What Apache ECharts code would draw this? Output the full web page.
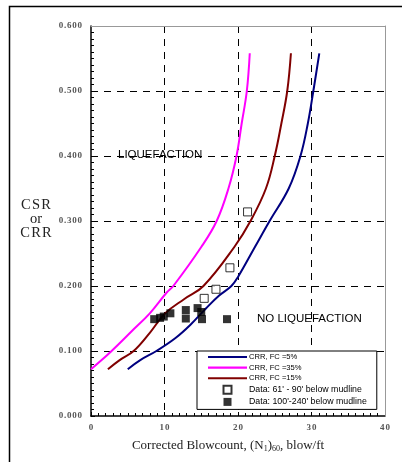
<!DOCTYPE html>
<html>
<head>
<meta charset="utf-8">
<script src="https://cdn.jsdelivr.net/npm/echarts@6/dist/echarts.min.js"></script>
<style>
  html, body { margin: 0; padding: 0; background: #fff; }
  #chart { width: 402px; height: 462px; }
</style>
</head>
<body>
<div id="chart"></div>
<script>
// CRR curves: corrected blowcount (N1)60 vs. cyclic resistance ratio
const crr5N   = [5.0, 6.7, 8.9, 11.5, 13.5, 15.6, 17.4, 19.1, 20.0, 22.3, 24.3, 26.9, 28.5, 29.5, 30.25, 31.06];
const crr5    = [0.072, 0.086, 0.100, 0.120, 0.140, 0.165, 0.185, 0.200, 0.214, 0.260, 0.300, 0.350, 0.400, 0.450, 0.500, 0.558];
const crr35N  = [0.0, 1.45, 2.8, 5.5, 8.0, 10.3, 11.2, 15.0, 17.1, 18.7, 19.8, 20.5, 21.2, 21.6];
const crr35   = [0.072, 0.086, 0.100, 0.130, 0.158, 0.190, 0.200, 0.260, 0.300, 0.350, 0.400, 0.450, 0.500, 0.558];
const crr15N  = [2.3, 3.9, 5.8, 8.0, 10.1, 12.7, 15.3, 19.5, 21.7, 23.8, 25.0, 25.9, 26.7, 27.2];
const crr15   = [0.072, 0.086, 0.100, 0.128, 0.158, 0.180, 0.200, 0.260, 0.300, 0.350, 0.400, 0.450, 0.500, 0.558];

// Field data, cyclic stress ratio vs. blowcount
const shallowN   = [15.4, 17.0, 18.9, 21.3];
const shallowCSR = [0.181, 0.195, 0.228, 0.314];
const deepN      = [8.6, 9.4, 9.9, 10.8, 12.9, 12.9, 14.5, 15.0, 15.1, 18.5];
const deepCSR    = [0.149, 0.151, 0.153, 0.158, 0.163, 0.150, 0.166, 0.160, 0.149, 0.149];

const seriesNames = ['CRR, FC =5%', 'CRR, FC =35%', 'CRR, FC =15%',
                     "Data: 61' - 90' below mudline", "Data: 100'-240' below mudline"];

const pairs = (xs, ys) => xs.map((x, i) => [x, ys[i]]);
const spaced = s => s.split('').join('\u200A');

const serif = 'Liberation Serif';
const sans = 'Liberation Sans';
const dashed = { show: true, showMinLine: false, showMaxLine: false,
                 lineStyle: { color: '#000', type: [7, 6], width: 1 } };

// legend glyphs: a thin bar for the curves, a small square for the data
const lineIcon = 'path://M0,0H40V2.2H0Z';
const boxIcon = 'path://M0,0H8V8H0Z';

// thin grey frame on the top and right sides of the plot
const frameAxis = {
  type: 'value', z: 6,
  axisLine: { show: true, onZero: false, lineStyle: { color: '#999', width: 1 } },
  axisTick: { show: false }, axisLabel: { show: false }, splitLine: { show: false }
};

const chart = echarts.init(document.getElementById('chart'), null, { renderer: 'canvas' });

function curve(name, data, color) {
  return {
    name, type: 'line', data, smooth: 0.4, showSymbol: false, symbol: 'none',
    lineStyle: { color, width: 2 }, itemStyle: { color }, z: 3
  };
}

chart.setOption({
  animation: false,
  backgroundColor: '#fff',
  grid: { left: 91, top: 26, right: 17, bottom: 46, containLabel: false },
  xAxis: [{
    type: 'value', min: 0, max: 40, interval: 10,
    axisLine: { onZero: false, lineStyle: { color: '#000', width: 1.5 } },
    axisTick: { show: true, inside: true, length: 4, lineStyle: { color: '#000' } },
    minorTick: { show: true, splitNumber: 10, length: 3, lineStyle: { color: '#000' } },
    axisLabel: { margin: 7, fontFamily: serif, fontSize: 9, fontWeight: 'bold', color: '#555',
                 formatter: v => spaced(String(v)) },
    splitLine: dashed,
    name: 'Corrected Blowcount, (N{sub|1}){sub|60}, blow/ft',
    nameLocation: 'middle', nameGap: 22,
    nameTextStyle: {
      fontFamily: serif, fontSize: 13, color: '#222', lineHeight: 15, padding: [0, 20, 0, 0],
      rich: { sub: { fontFamily: serif, fontSize: 8, color: '#222', verticalAlign: 'bottom', lineHeight: 10 } }
    }
  }, Object.assign({ min: 0, max: 40, interval: 10, position: 'top' }, frameAxis)],
  yAxis: [{
    type: 'value', min: 0, max: 0.6, interval: 0.1,
    axisLine: { show: true, onZero: false, lineStyle: { color: '#000', width: 1.5 } },
    axisTick: { show: true, inside: true, length: 4, lineStyle: { color: '#000' } },
    minorTick: { show: true, splitNumber: 10, length: 3, lineStyle: { color: '#000' } },
    axisLabel: { margin: 9, fontFamily: serif, fontSize: 9, fontWeight: 'bold', color: '#555',
                 formatter: v => spaced(v.toFixed(3)) },
    splitLine: dashed
  }, Object.assign({ min: 0, max: 0.6, interval: 0.1, position: 'right' }, frameAxis)],
  legend: {
    orient: 'vertical', left: 197, top: 351,
    padding: [2, 10, 3, 11],
    backgroundColor: '#fff', borderColor: '#000', borderWidth: 1,
    itemWidth: 39, itemHeight: 8, itemGap: 2.6,
    symbolKeepAspect: true,
    textStyle: { fontFamily: sans, fontSize: 7.5, color: '#000', padding: [0, 0, 0, -3] },
    data: seriesNames.map((n, i) => ({
      name: n,
      icon: i < 3 ? lineIcon : boxIcon,
      textStyle: { fontSize: i < 3 ? 7.6 : 8.8 }
    })),
    z: 10
  },
  series: [
    curve(seriesNames[0], pairs(crr5N, crr5), '#000080'),
    curve(seriesNames[1], pairs(crr35N, crr35), '#ff00ff'),
    curve(seriesNames[2], pairs(crr15N, crr15), '#800000'),
    {
      name: seriesNames[3], type: 'scatter', symbol: 'rect', symbolSize: 8,
      data: pairs(shallowN, shallowCSR),
      itemStyle: { color: '#fff', borderColor: '#000', borderWidth: 1 }, z: 4
    },
    {
      name: seriesNames[4], type: 'scatter', symbol: 'rect', symbolSize: 8,
      data: pairs(deepN, deepCSR),
      itemStyle: { color: '#000', borderColor: '#000', borderWidth: 0 }, z: 4
    }
  ],
  graphic: [
    { type: 'rect', shape: { x: 9.5, y: 6.5, width: 420, height: 480 },
      style: { fill: 'none', stroke: '#000', lineWidth: 1.5 }, silent: true, z: 0 },
    { type: 'text', left: 118, top: 149,
      style: { text: 'LIQUEFACTION', fontFamily: sans, fontSize: 11.5, fill: '#000' }, z: 5 },
    { type: 'text', left: 257, top: 313,
      style: { text: 'NO LIQUEFACTION', fontFamily: sans, fontSize: 11.5, fill: '#000' }, z: 5 },
    { type: 'text', x: 36, y: 198,
      style: { text: 'C\u200AS\u200AR\nor\nC\u200AR\u200AR', fontFamily: serif, fontSize: 14.5,
               lineHeight: 14, align: 'center', verticalAlign: 'top', fill: '#222' }, z: 5 }
  ]
});
</script>
</body>
</html>
